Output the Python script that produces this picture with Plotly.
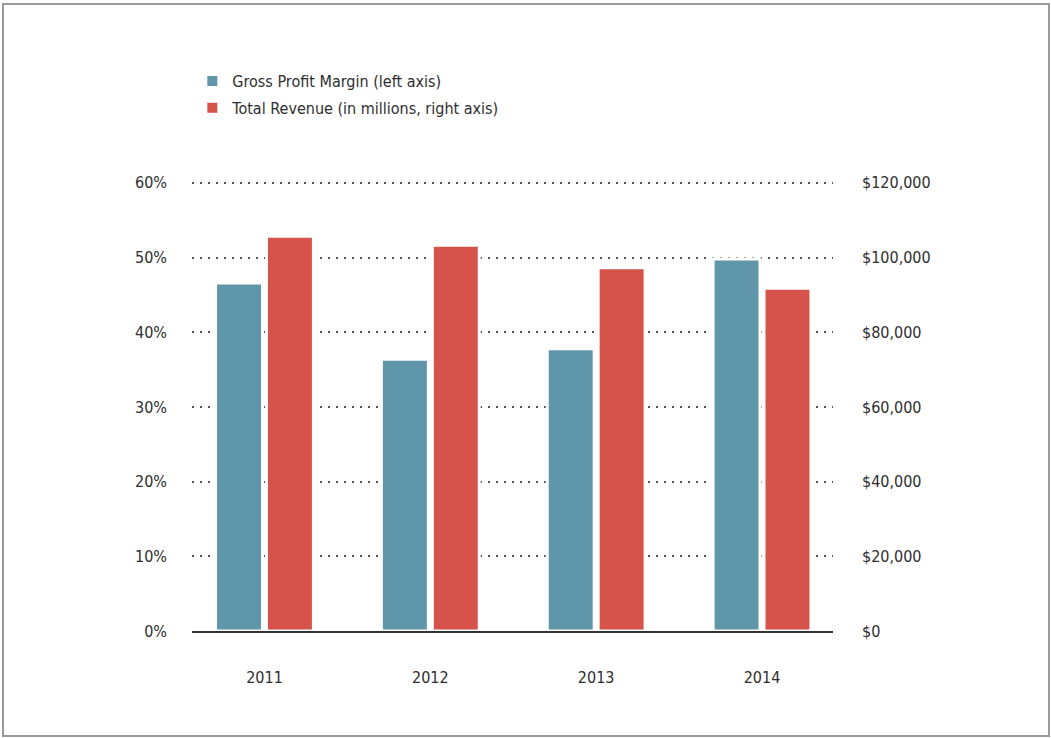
import plotly.graph_objects as go

years = ["2011", "2012", "2013", "2014"]
gross_margin = [46.6, 36.4, 37.8, 49.8]          # percent, left axis
total_revenue = [105700, 103300, 97300, 91800]   # millions USD, right axis

left_ticks = [0, 10, 20, 30, 40, 50, 60]
left_labels = ["0%", "10%", "20%", "30%", "40%", "50%", "60%"]
right_ticks = [0, 20000, 40000, 60000, 80000, 100000, 120000]
right_labels = ["$0", "$20,000", "$40,000", "$60,000", "$80,000", "$100,000", "$120,000"]

BLUE = "#6096a9"
RED = "#d5534b"
TEXT = "#2e2e2e"
FONT = "Liberation Sans Narrow, DejaVu Sans Condensed, Arial Narrow, sans-serif"

L, R, T, B = 192, 218, 181, 107
W, H = 1051, 738
PW, PH = W - L - R, H - T - B

fig = go.Figure()
fig.add_trace(go.Bar(
    x=years, y=gross_margin, name="Gross Profit Margin (left axis)",
    marker=dict(color=BLUE, line=dict(color="white", width=3)),
    offsetgroup="a", yaxis="y", legendgroup="g1",
))
fig.add_trace(go.Bar(
    x=years, y=total_revenue, name="Total Revenue (in millions, right axis)",
    marker=dict(color=RED, line=dict(color="white", width=3)),
    offsetgroup="b", yaxis="y2", legendgroup="g2",
))

fig.update_layout(
    width=W, height=H,
    margin=dict(l=L, r=R, t=T, b=B, autoexpand=False),
    paper_bgcolor="white", plot_bgcolor="white",
    font=dict(family=FONT, size=16, color=TEXT),
    barmode="group", bargap=0.386, bargroupgap=0.078,
    showlegend=True,
    legend=dict(
        xref="container", yref="container",
        x=0.183, y=1 - 64 / H, xanchor="left", yanchor="top",
        font=dict(family=FONT, size=16, color=TEXT),
        tracegroupgap=3, itemsizing="constant",
        bgcolor="rgba(0,0,0,0)",
    ),
    xaxis=dict(
        type="category", range=[-0.437, 3.428],
        showline=True, linecolor="#333333", linewidth=2,
        showgrid=False, ticks="", ticklabelstandoff=31,
        tickfont=dict(size=16, color=TEXT),
        fixedrange=True,
    ),
    yaxis=dict(
        range=[0, 60.25], tickvals=left_ticks, ticktext=left_labels,
        showgrid=True, gridcolor="#555555", gridwidth=2, griddash="2px,6px",
        zeroline=False, showline=False, ticks="", ticklabelstandoff=24,
        tickfont=dict(size=16, color=TEXT),
    ),
    yaxis2=dict(
        range=[0, 120500], tickvals=right_ticks, ticktext=right_labels,
        overlaying="y", side="right", showgrid=False, zeroline=False,
        showline=False, ticks="", ticklabelstandoff=28,
        tickfont=dict(size=16, color=TEXT),
    ),
    shapes=[dict(
        type="rect", xref="paper", yref="paper",
        x0=(3 - L) / PW, x1=(1049 - L) / PW,
        y0=-(736 - (H - B)) / PH, y1=1 + (T - 4) / PH,
        line=dict(color="#9a9a9a", width=2), layer="below",
    )],
)

fig.write_html("out.html")
